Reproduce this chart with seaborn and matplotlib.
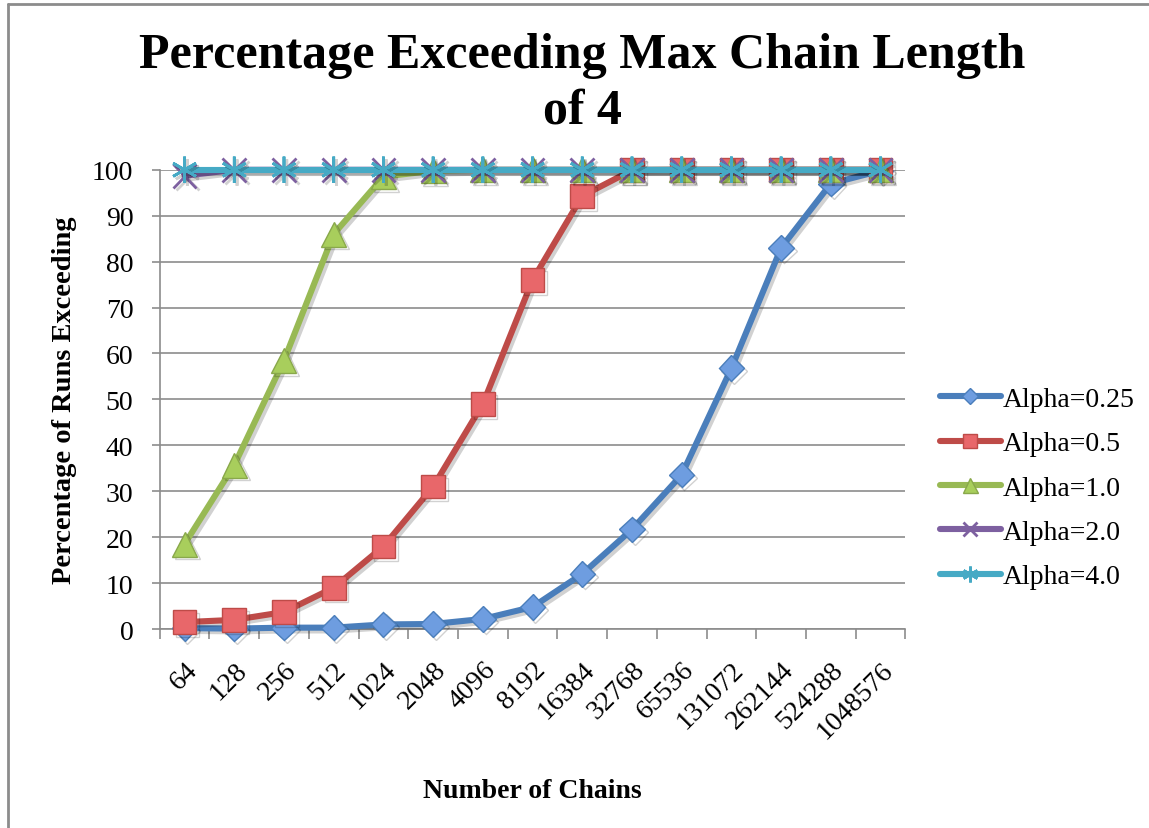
import matplotlib
matplotlib.use("Agg")
import matplotlib.pyplot as plt
import matplotlib.patheffects as pe
from matplotlib.lines import Line2D
import seaborn as sns
import numpy as np
import pandas as pd

# Number of chains (categorical x axis)
chains = ["64", "128", "256", "512", "1024", "2048", "4096", "8192", "16384",
          "32768", "65536", "131072", "262144", "524288", "1048576"]

# Percentage of runs exceeding the max chain length, per alpha
alpha_025 = [0.2, 0.1, 0.3, 0.3, 1.0, 1.1, 2.2, 4.8, 12.0, 21.7, 33.6, 56.8, 83.0, 97.0, 99.8]
alpha_05 = [1.5, 2.0, 3.7, 9.0, 18.0, 31.0, 49.0, 76.0, 94.3, 99.9, 100, 100, 100, 100, 100]
alpha_10 = [18.5, 35.7, 58.5, 86.0, 98.5, 99.8, 100, 100, 100, 100, 100, 100, 100, 100, 100]
alpha_20 = [98.7, 100, 100, 100, 100, 100, 100, 100, 100, 100, 100, 100, 100, 100, 100]
alpha_40 = [100, 100, 100, 100, 100, 100, 100, 100, 100, 100, 100, 100, 100, 100, 100]

series_names = ["Alpha=0.25", "Alpha=0.5", "Alpha=1.0", "Alpha=2.0", "Alpha=4.0"]
series_values = [alpha_025, alpha_05, alpha_10, alpha_20, alpha_40]

line_colors = ["#4A7EBB", "#BE4B48", "#98B954", "#7D60A0", "#46AAC5"]
face_colors = ["#6E9DE0", "#E8676A", "#A8CE5C", "#7D60A0", "#46AAC5"]
edge_colors = ["#4A7EBB", "#BE4B48", "#89A84B", "#7D60A0", "#46AAC5"]
markers = ["D", "s", "^", "x", (6, 2, 0)]
marker_sizes = [13, 17, 18, 17, 19]
edge_widths = [1.0, 1.0, 1.0, 2.0, 2.0]

sns.set_theme(style="white")
plt.rcParams["font.family"] = ["Liberation Serif", "DejaVu Serif"]
plt.rcParams["text.color"] = "black"
plt.rcParams["axes.labelcolor"] = "black"

fig = plt.figure(figsize=(11.49, 8.29), dpi=100)
ax = fig.add_axes([0.139, 0.240, 0.649, 0.554])

pos = np.arange(len(chains))
shadow = [pe.SimpleLineShadow(offset=(2, -2), shadow_color="black", alpha=0.18), pe.Normal()]

for i, (name, vals) in enumerate(zip(series_names, series_values)):
    df = pd.DataFrame({"pos": pos, "pct": vals})
    sns.lineplot(data=df, x="pos", y="pct", ax=ax, color=line_colors[i],
                 linewidth=4.4, marker=markers[i], markersize=marker_sizes[i],
                 markerfacecolor=face_colors[i], markeredgecolor=edge_colors[i],
                 markeredgewidth=edge_widths[i], zorder=3 + i, clip_on=False,
                 path_effects=shadow, label=name, legend=False)

ax.set_xlim(-0.5, len(chains) - 0.5)
ax.set_ylim(0, 100)
ax.set_yticks(np.arange(0, 101, 10))
ax.set_xticks(pos)
ax.set_xticklabels(chains, rotation=45, ha="right", rotation_mode="anchor")
ax.set_xticks(np.arange(-0.5, len(chains), 1.0), minor=True)

ax.grid(axis="y", color="#8C8C8C", linewidth=1.2)
ax.grid(axis="x", visible=False)
ax.set_axisbelow(True)
for side in ["top", "right"]:
    ax.spines[side].set_visible(False)
for side in ["left", "bottom"]:
    ax.spines[side].set_color("#8C8C8C")
    ax.spines[side].set_linewidth(1.2)

ax.tick_params(axis="y", which="major", direction="out", length=6, width=1.2,
               color="#8C8C8C", left=True, labelsize=20, pad=13, labelcolor="black")
ax.tick_params(axis="x", which="major", length=0, labelsize=20, pad=20, labelcolor="black")
ax.tick_params(axis="x", which="minor", direction="out", length=7, width=1.2,
               color="#8C8C8C", bottom=True)

ax.set_xlabel("Number of Chains", fontsize=20, fontweight="bold", labelpad=25)
ax.set_ylabel("Percentage of Runs Exceeding", fontsize=20.5, fontweight="bold", labelpad=11)

fig.text(0.507, 0.932, "Percentage Exceeding Max Chain Length", ha="center", va="center",
         fontsize=36, fontweight="bold")
fig.text(0.507, 0.866, "of 4", ha="center", va="center", fontsize=36, fontweight="bold")

handles = [Line2D([0], [0], color=line_colors[i], linewidth=4.4, marker=markers[i],
                  markersize=marker_sizes[i] * 0.6, markerfacecolor=face_colors[i],
                  markeredgecolor=edge_colors[i], markeredgewidth=edge_widths[i])
           for i in range(len(series_names))]
fig.legend(handles, series_names, loc="center left", bbox_to_anchor=(0.818, 0.41),
           frameon=False, fontsize=20, handlelength=2.2, handletextpad=0.05,
           labelspacing=0.68, borderaxespad=0, borderpad=0)

# chart frame: left and top edges
fig.add_artist(Line2D([0.007, 0.007], [0, 0.994], transform=fig.transFigure,
                      color="#8C8C8C", linewidth=2))
fig.add_artist(Line2D([0.007, 1.0], [0.994, 0.994], transform=fig.transFigure,
                      color="#8C8C8C", linewidth=2))

fig.savefig("out.png", dpi=100)
